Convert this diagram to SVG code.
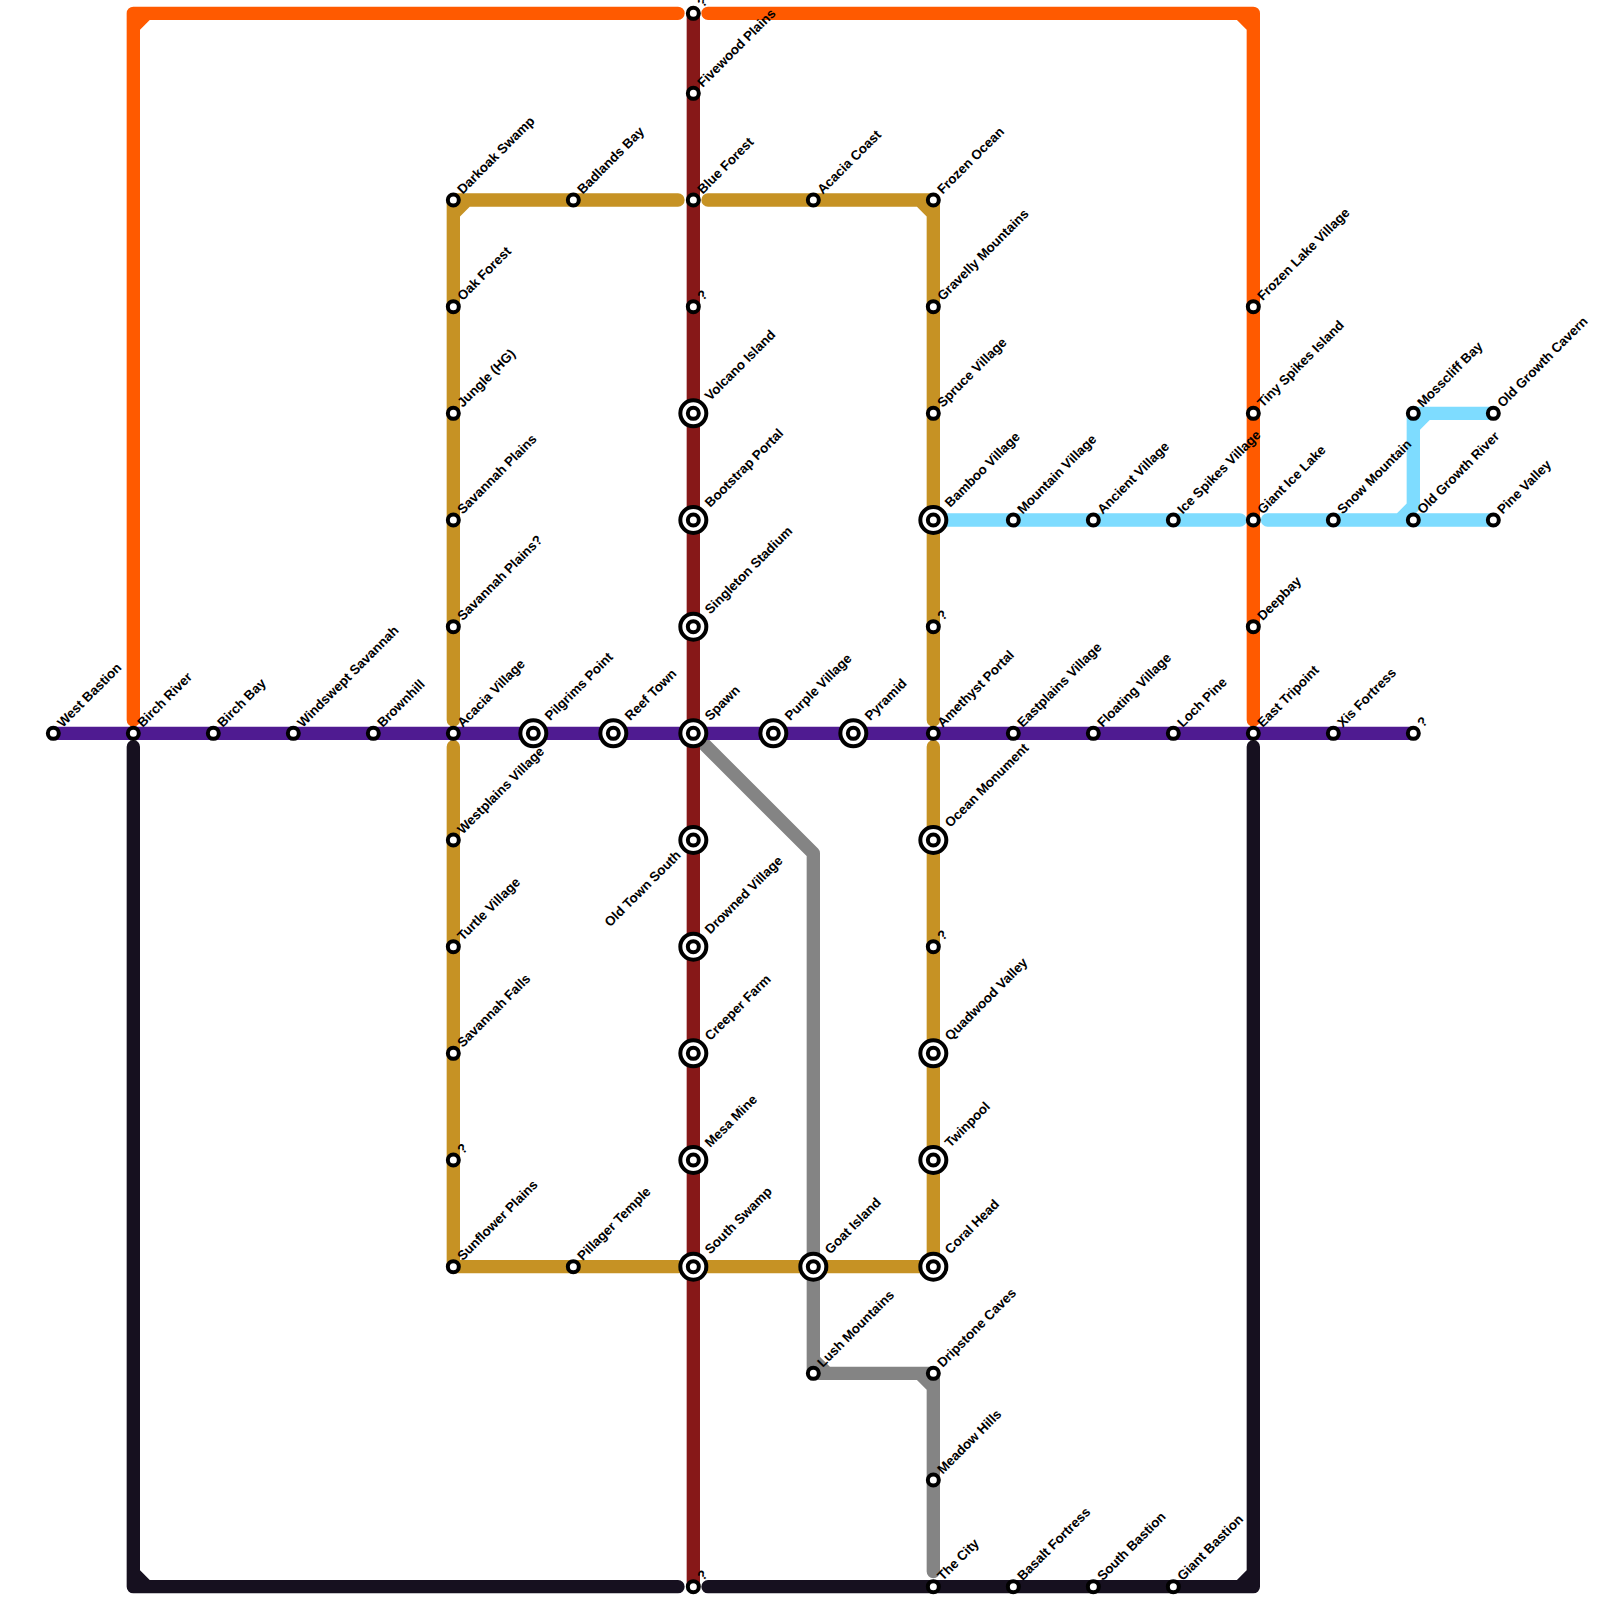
<svg xmlns="http://www.w3.org/2000/svg" xmlns:xlink="http://www.w3.org/1999/xlink" width="1600" height="1600" viewBox="0 0 1600 1600">
<style>
.l{fill:none;stroke-width:13.33;stroke-linecap:round;stroke-linejoin:round}
.s{fill:#fff;stroke:#000;stroke-width:4}
text{font-family:"Liberation Sans",Arial,sans-serif;font-size:13.33px;font-weight:700;fill:#000}
.a{transform:translate(9.3px,-5.3px) rotate(-45deg)}
.b{transform:translate(17px,-12px) rotate(-45deg)}
.c{text-anchor:end;transform:translate(-11.8px,16px) rotate(-45deg)}
</style>
<defs>
<g id="sm"><circle class="s" r="5.5"/></g>
<g id="bg"><circle class="s" r="13"/><circle class="s" r="5.5"/></g>
</defs>
<rect width="1600" height="1600" fill="#fff"/>
<g id="connectors">
<path class="l" stroke="#ff5a00" d="M133.33 720V13.33H678M133.33 27L147 13.33M708 13.33H1253.33V720M1239.67 13.33L1253.33 27"/>
<path class="l" stroke="#c69224" d="M453.33 720V200H678M453.33 213.67L467 200M708 200H933.33V720M919.67 200L933.33 213.67M453.33 746.67V1266.67H678M708 1266.67H933.33V746.67"/>
<path class="l" stroke="#848484" d="M703 743L813.33 853.33V1373.33H933.33V1571.5M813.33 1359.67L827 1373.33M919.67 1373.33L933.33 1387"/>
<path class="l" stroke="#7edcff" d="M933.33 520H1240M1267.5 520H1493.33M1399.67 520L1413.33 506.33V413.33H1493.33M1413.33 427L1427 413.33"/>
<path class="l" stroke="#16101f" d="M133.33 746.67V1586.67H678M133.33 1573L147 1586.67M708 1586.67H1253.33V746.67M1239.67 1586.67L1253.33 1573"/>
<path class="l" stroke="#871818" style="stroke-linecap:butt" d="M693.33 13.33V1586.67"/>
<path class="l" stroke="#4f1b91" style="stroke-linecap:butt" d="M53.33 733.33H1413.33"/>
</g>
<g id="n-west-bastion" transform="translate(53.33 733.33)"><use xlink:href="#sm"/><text class="a">West Bastion</text></g>
<g id="n-birch-river" transform="translate(133.33 733.33)"><use xlink:href="#sm"/><text class="a">Birch River</text></g>
<g id="n-birch-bay" transform="translate(213.33 733.33)"><use xlink:href="#sm"/><text class="a">Birch Bay</text></g>
<g id="n-windswept-savannah" transform="translate(293.33 733.33)"><use xlink:href="#sm"/><text class="a">Windswept Savannah</text></g>
<g id="n-brownhill" transform="translate(373.33 733.33)"><use xlink:href="#sm"/><text class="a">Brownhill</text></g>
<g id="n-acacia-village" transform="translate(453.33 733.33)"><use xlink:href="#sm"/><text class="a">Acacia Village</text></g>
<g id="n-pilgrims-point" transform="translate(533.33 733.33)"><use xlink:href="#bg"/><text class="b">Pilgrims Point</text></g>
<g id="n-reef-town" transform="translate(613.33 733.33)"><use xlink:href="#bg"/><text class="b">Reef Town</text></g>
<g id="n-spawn" transform="translate(693.33 733.33)"><use xlink:href="#bg"/><text class="b">Spawn</text></g>
<g id="n-purple-village" transform="translate(773.33 733.33)"><use xlink:href="#bg"/><text class="b">Purple Village</text></g>
<g id="n-pyramid" transform="translate(853.33 733.33)"><use xlink:href="#bg"/><text class="b">Pyramid</text></g>
<g id="n-amethyst-portal" transform="translate(933.33 733.33)"><use xlink:href="#sm"/><text class="a">Amethyst Portal</text></g>
<g id="n-eastplains-village" transform="translate(1013.33 733.33)"><use xlink:href="#sm"/><text class="a">Eastplains Village</text></g>
<g id="n-floating-village" transform="translate(1093.33 733.33)"><use xlink:href="#sm"/><text class="a">Floating Village</text></g>
<g id="n-loch-pine" transform="translate(1173.33 733.33)"><use xlink:href="#sm"/><text class="a">Loch Pine</text></g>
<g id="n-east-tripoint" transform="translate(1253.33 733.33)"><use xlink:href="#sm"/><text class="a">East Tripoint</text></g>
<g id="n-xis-fortress" transform="translate(1333.33 733.33)"><use xlink:href="#sm"/><text class="a">Xis Fortress</text></g>
<g id="n-q-east" transform="translate(1413.33 733.33)"><use xlink:href="#sm"/><text class="a">?</text></g>
<g id="n-darkoak-swamp" transform="translate(453.33 200)"><use xlink:href="#sm"/><text class="a">Darkoak Swamp</text></g>
<g id="n-oak-forest" transform="translate(453.33 306.67)"><use xlink:href="#sm"/><text class="a">Oak Forest</text></g>
<g id="n-jungle-hg" transform="translate(453.33 413.33)"><use xlink:href="#sm"/><text class="a">Jungle (HG)</text></g>
<g id="n-savannah-plains" transform="translate(453.33 520)"><use xlink:href="#sm"/><text class="a">Savannah Plains</text></g>
<g id="n-savannah-plains-q" transform="translate(453.33 626.67)"><use xlink:href="#sm"/><text class="a">Savannah Plains?</text></g>
<g id="n-westplains-village" transform="translate(453.33 840)"><use xlink:href="#sm"/><text class="a">Westplains Village</text></g>
<g id="n-turtle-village" transform="translate(453.33 946.67)"><use xlink:href="#sm"/><text class="a">Turtle Village</text></g>
<g id="n-savannah-falls" transform="translate(453.33 1053.33)"><use xlink:href="#sm"/><text class="a">Savannah Falls</text></g>
<g id="n-q-west" transform="translate(453.33 1160)"><use xlink:href="#sm"/><text class="a">?</text></g>
<g id="n-sunflower-plains" transform="translate(453.33 1266.67)"><use xlink:href="#sm"/><text class="a">Sunflower Plains</text></g>
<g id="n-badlands-bay" transform="translate(573.33 200)"><use xlink:href="#sm"/><text class="a">Badlands Bay</text></g>
<g id="n-pillager-temple" transform="translate(573.33 1266.67)"><use xlink:href="#sm"/><text class="a">Pillager Temple</text></g>
<g id="n-q-top" transform="translate(693.33 13.33)"><use xlink:href="#sm"/><text class="a">?</text></g>
<g id="n-fivewood-plains" transform="translate(693.33 93.33)"><use xlink:href="#sm"/><text class="a">Fivewood Plains</text></g>
<g id="n-blue-forest" transform="translate(693.33 200)"><use xlink:href="#sm"/><text class="a">Blue Forest</text></g>
<g id="n-q-307" transform="translate(693.33 306.67)"><use xlink:href="#sm"/><text class="a">?</text></g>
<g id="n-volcano-island" transform="translate(693.33 413.33)"><use xlink:href="#bg"/><text class="b">Volcano Island</text></g>
<g id="n-bootstrap-portal" transform="translate(693.33 520)"><use xlink:href="#bg"/><text class="b">Bootstrap Portal</text></g>
<g id="n-singleton-stadium" transform="translate(693.33 626.67)"><use xlink:href="#bg"/><text class="b">Singleton Stadium</text></g>
<g id="n-old-town-south" transform="translate(693.33 840)"><use xlink:href="#bg"/><text class="c">Old Town South</text></g>
<g id="n-drowned-village" transform="translate(693.33 946.67)"><use xlink:href="#bg"/><text class="b">Drowned Village</text></g>
<g id="n-creeper-farm" transform="translate(693.33 1053.33)"><use xlink:href="#bg"/><text class="b">Creeper Farm</text></g>
<g id="n-mesa-mine" transform="translate(693.33 1160)"><use xlink:href="#bg"/><text class="b">Mesa Mine</text></g>
<g id="n-south-swamp" transform="translate(693.33 1266.67)"><use xlink:href="#bg"/><text class="b">South Swamp</text></g>
<g id="n-q-bottom" transform="translate(693.33 1586.67)"><use xlink:href="#sm"/><text class="a">?</text></g>
<g id="n-acacia-coast" transform="translate(813.33 200)"><use xlink:href="#sm"/><text class="a">Acacia Coast</text></g>
<g id="n-frozen-ocean" transform="translate(933.33 200)"><use xlink:href="#sm"/><text class="a">Frozen Ocean</text></g>
<g id="n-gravelly-mountains" transform="translate(933.33 306.67)"><use xlink:href="#sm"/><text class="a">Gravelly Mountains</text></g>
<g id="n-spruce-village" transform="translate(933.33 413.33)"><use xlink:href="#sm"/><text class="a">Spruce Village</text></g>
<g id="n-bamboo-village" transform="translate(933.33 520)"><use xlink:href="#bg"/><text class="b">Bamboo Village</text></g>
<g id="n-q-627" transform="translate(933.33 626.67)"><use xlink:href="#sm"/><text class="a">?</text></g>
<g id="n-ocean-monument" transform="translate(933.33 840)"><use xlink:href="#bg"/><text class="b">Ocean Monument</text></g>
<g id="n-q-947" transform="translate(933.33 946.67)"><use xlink:href="#sm"/><text class="a">?</text></g>
<g id="n-quadwood-valley" transform="translate(933.33 1053.33)"><use xlink:href="#bg"/><text class="b">Quadwood Valley</text></g>
<g id="n-twinpool" transform="translate(933.33 1160)"><use xlink:href="#bg"/><text class="b">Twinpool</text></g>
<g id="n-coral-head" transform="translate(933.33 1266.67)"><use xlink:href="#bg"/><text class="b">Coral Head</text></g>
<g id="n-goat-island" transform="translate(813.33 1266.67)"><use xlink:href="#bg"/><text class="b">Goat Island</text></g>
<g id="n-lush-mountains" transform="translate(813.33 1373.33)"><use xlink:href="#sm"/><text class="a">Lush Mountains</text></g>
<g id="n-dripstone-caves" transform="translate(933.33 1373.33)"><use xlink:href="#sm"/><text class="a">Dripstone Caves</text></g>
<g id="n-meadow-hills" transform="translate(933.33 1480)"><use xlink:href="#sm"/><text class="a">Meadow Hills</text></g>
<g id="n-the-city" transform="translate(933.33 1586.67)"><use xlink:href="#sm"/><text class="a">The City</text></g>
<g id="n-basalt-fortress" transform="translate(1013.33 1586.67)"><use xlink:href="#sm"/><text class="a">Basalt Fortress</text></g>
<g id="n-south-bastion" transform="translate(1093.33 1586.67)"><use xlink:href="#sm"/><text class="a">South Bastion</text></g>
<g id="n-giant-bastion" transform="translate(1173.33 1586.67)"><use xlink:href="#sm"/><text class="a">Giant Bastion</text></g>
<g id="n-mountain-village" transform="translate(1013.33 520)"><use xlink:href="#sm"/><text class="a">Mountain Village</text></g>
<g id="n-ancient-village" transform="translate(1093.33 520)"><use xlink:href="#sm"/><text class="a">Ancient Village</text></g>
<g id="n-ice-spikes-village" transform="translate(1173.33 520)"><use xlink:href="#sm"/><text class="a">Ice Spikes Village</text></g>
<g id="n-giant-ice-lake" transform="translate(1253.33 520)"><use xlink:href="#sm"/><text class="a">Giant Ice Lake</text></g>
<g id="n-snow-mountain" transform="translate(1333.33 520)"><use xlink:href="#sm"/><text class="a">Snow Mountain</text></g>
<g id="n-old-growth-river" transform="translate(1413.33 520)"><use xlink:href="#sm"/><text class="a">Old Growth River</text></g>
<g id="n-pine-valley" transform="translate(1493.33 520)"><use xlink:href="#sm"/><text class="a">Pine Valley</text></g>
<g id="n-mosscliff-bay" transform="translate(1413.33 413.33)"><use xlink:href="#sm"/><text class="a">Mosscliff Bay</text></g>
<g id="n-old-growth-cavern" transform="translate(1493.33 413.33)"><use xlink:href="#sm"/><text class="a">Old Growth Cavern</text></g>
<g id="n-frozen-lake-village" transform="translate(1253.33 306.67)"><use xlink:href="#sm"/><text class="a">Frozen Lake Village</text></g>
<g id="n-tiny-spikes-island" transform="translate(1253.33 413.33)"><use xlink:href="#sm"/><text class="a">Tiny Spikes Island</text></g>
<g id="n-deepbay" transform="translate(1253.33 626.67)"><use xlink:href="#sm"/><text class="a">Deepbay</text></g>
</svg>
